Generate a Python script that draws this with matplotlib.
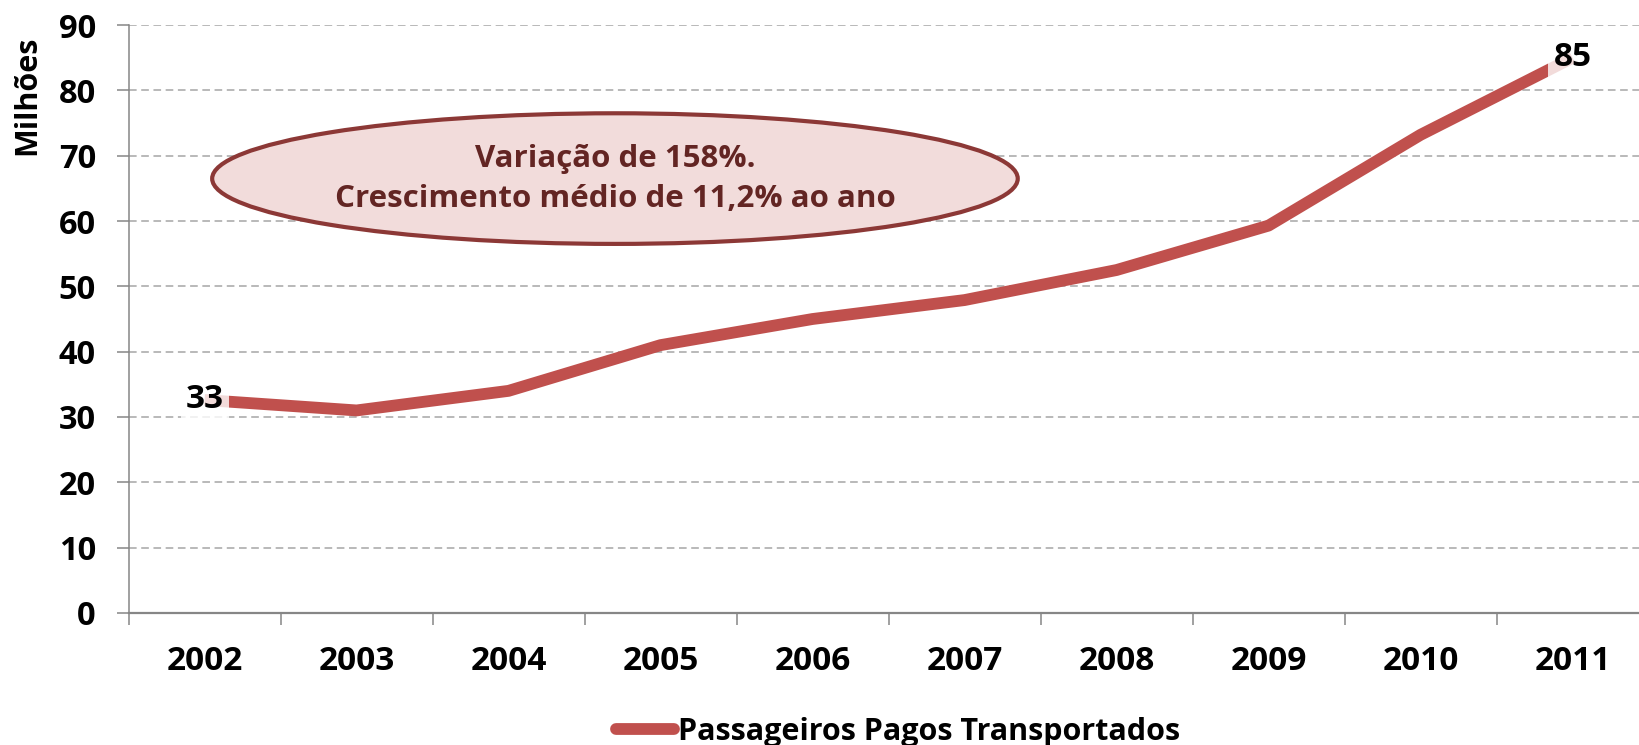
import matplotlib
matplotlib.use("Agg")
import matplotlib.pyplot as plt
from matplotlib.patches import Ellipse
import numpy as np

plt.rcParams['font.family'] = ['Open Sans', 'DejaVu Sans']
plt.rcParams['font.weight'] = 'bold'

anos = ['2002', '2003', '2004', '2005', '2006', '2007', '2008', '2009', '2010', '2011']
passageiros = [32.6, 31.0, 34.0, 41.0, 45.0, 47.9, 52.5, 59.3, 73.2, 85.0]
serie_nome = 'Passageiros Pagos Transportados'
nota = 'Variação de 158%.\nCrescimento médio de 11,2% ao ano'
yticks = list(range(0, 100, 10))

red = '#C0504D'
gray = '#868686'

fig = plt.figure(figsize=[16.4, 7.45], dpi=100)
ax = fig.add_axes([0.0784, 0.1773, 0.9268, 0.789])

x = np.arange(len(anos))
ax.plot(x, passageiros, color=red, linewidth=8.5, solid_joinstyle='round',
        solid_capstyle='butt', label=serie_nome, zorder=3)

# rotulos do primeiro e do ultimo ponto
for i in [0, len(anos) - 1]:
    ax.text(x[i], passageiros[i], f'{passageiros[i]:.0f}', fontsize=24, fontweight='bold',
            ha='center', va='center', zorder=4,
            bbox=dict(boxstyle='square,pad=0.15', facecolor=(1, 1, 1, 0.8), edgecolor='none'))

ax.set_xlim(-0.5, len(anos) - 0.5)
ax.set_ylim(0, 90)
ax.set_yticks(yticks)
ax.set_xticks(x)
ax.set_xticklabels(anos)
ax.set_xticks(np.arange(-0.5, len(anos), 1), minor=True)

ax.tick_params(axis='x', which='major', length=0, pad=23, labelsize=24)
ax.tick_params(axis='x', which='minor', length=8.5, width=1.1, color=gray, direction='out')
ax.tick_params(axis='y', length=8.5, width=1.1, color=gray, pad=15, labelsize=23.5)

ax.yaxis.grid(True, color='#A6A6A6', linewidth=1.1, linestyle=(0, (5, 3)))
ax.set_axisbelow(True)
for s in ['top', 'right']:
    ax.spines[s].set_visible(False)
ax.spines['left'].set_color(gray)
ax.spines['left'].set_linewidth(1.1)
ax.spines['bottom'].set_color(gray)
ax.spines['bottom'].set_linewidth(1.6)

fig.text(27.5 / 1640, 1 - 95 / 745, 'Milhões', rotation=90, fontsize=22, fontweight='bold',
         ha='center', va='center')

# balao com a nota
ell = Ellipse((2.7, 66.5), 5.3, 20.0, facecolor='#F2DCDB', edgecolor='#8C3836',
              linewidth=3, zorder=5)
ax.add_patch(ell)
ax.text(2.7, 66.4, nota, fontsize=22.5, fontweight='bold', color='#632523',
        ha='center', va='center', linespacing=1.45, zorder=6)

leg = fig.legend(loc='center', bbox_to_anchor=(898 / 1640, 1 - 732 / 745), frameon=False,
                 fontsize=22, handlelength=1.9, handletextpad=0.15)
for line in leg.get_lines():
    line.set_solid_capstyle('round')

fig.savefig('out.png', dpi=100)
